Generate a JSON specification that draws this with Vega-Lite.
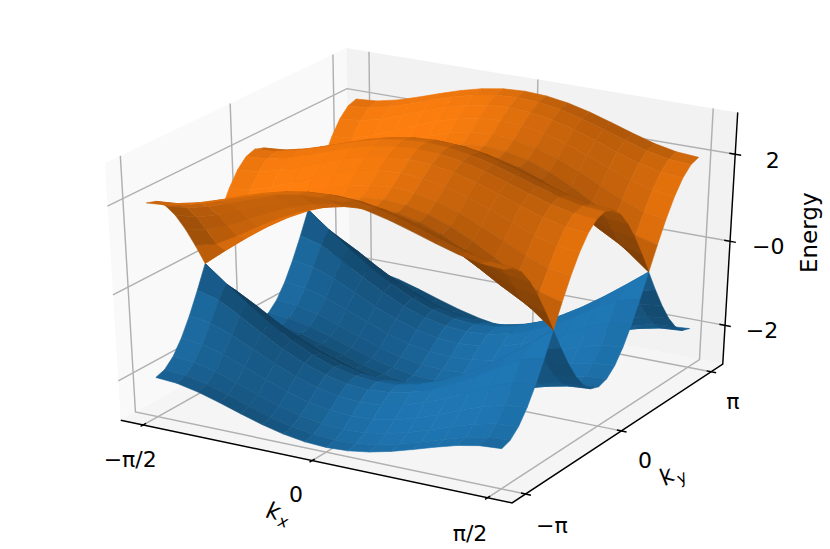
{"$schema":"https://vega.github.io/schema/vega-lite/v6.json","width":830,"height":549,"padding":0,"autosize":"none","background":"white","projection":{"type":"identity","reflectY":false,"scale":1,"translate":[0,0]},
"data":{"values":[
{"t":"pane","id":"a","kx":-102.3,"ky":-204.5,"e":-2.94},{"t":"pane","id":"a","kx":-102.3,"ky":204.5,"e":-2.94},{"t":"pane","id":"a","kx":-102.3,"ky":204.5,"e":2.94},{"t":"pane","id":"a","kx":-102.3,"ky":-204.5,"e":2.94},
{"t":"pane","id":"b","kx":-102.3,"ky":204.5,"e":-2.94},{"t":"pane","id":"b","kx":102.3,"ky":204.5,"e":-2.94},{"t":"pane","id":"b","kx":102.3,"ky":204.5,"e":2.94},{"t":"pane","id":"b","kx":-102.3,"ky":204.5,"e":2.94},
{"t":"pane","id":"c","kx":-102.3,"ky":-204.5,"e":-2.94},{"t":"pane","id":"c","kx":102.3,"ky":-204.5,"e":-2.94},{"t":"pane","id":"c","kx":102.3,"ky":204.5,"e":-2.94},{"t":"pane","id":"c","kx":-102.3,"ky":204.5,"e":-2.94},
{"t":"grid","id":"x1","s":0,"kx":-90,"ky":-204.5,"e":-2.94},{"t":"grid","id":"x1","s":1,"kx":-90,"ky":204.5,"e":-2.94},{"t":"grid","id":"x1","s":2,"kx":-90,"ky":204.5,"e":2.94},
{"t":"grid","id":"x2","s":0,"kx":0,"ky":-204.5,"e":-2.94},{"t":"grid","id":"x2","s":1,"kx":0,"ky":204.5,"e":-2.94},{"t":"grid","id":"x2","s":2,"kx":0,"ky":204.5,"e":2.94},
{"t":"grid","id":"x3","s":0,"kx":90,"ky":-204.5,"e":-2.94},{"t":"grid","id":"x3","s":1,"kx":90,"ky":204.5,"e":-2.94},{"t":"grid","id":"x3","s":2,"kx":90,"ky":204.5,"e":2.94},
{"t":"grid","id":"y1","s":0,"kx":102.3,"ky":-180,"e":-2.94},{"t":"grid","id":"y1","s":1,"kx":-102.3,"ky":-180,"e":-2.94},{"t":"grid","id":"y1","s":2,"kx":-102.3,"ky":-180,"e":2.94},
{"t":"grid","id":"y2","s":0,"kx":102.3,"ky":0,"e":-2.94},{"t":"grid","id":"y2","s":1,"kx":-102.3,"ky":0,"e":-2.94},{"t":"grid","id":"y2","s":2,"kx":-102.3,"ky":0,"e":2.94},
{"t":"grid","id":"y3","s":0,"kx":102.3,"ky":180,"e":-2.94},{"t":"grid","id":"y3","s":1,"kx":-102.3,"ky":180,"e":-2.94},{"t":"grid","id":"y3","s":2,"kx":-102.3,"ky":180,"e":2.94},
{"t":"grid","id":"z1","s":0,"kx":-102.3,"ky":-204.5,"e":-2},{"t":"grid","id":"z1","s":1,"kx":-102.3,"ky":204.5,"e":-2},{"t":"grid","id":"z1","s":2,"kx":102.3,"ky":204.5,"e":-2},
{"t":"grid","id":"z2","s":0,"kx":-102.3,"ky":-204.5,"e":0},{"t":"grid","id":"z2","s":1,"kx":-102.3,"ky":204.5,"e":0},{"t":"grid","id":"z2","s":2,"kx":102.3,"ky":204.5,"e":0},
{"t":"grid","id":"z3","s":0,"kx":-102.3,"ky":-204.5,"e":2},{"t":"grid","id":"z3","s":1,"kx":-102.3,"ky":204.5,"e":2},{"t":"grid","id":"z3","s":2,"kx":102.3,"ky":204.5,"e":2},
{"t":"axis","id":"ax","s":0,"kx":-102.3,"ky":-204.5,"e":-2.94},{"t":"axis","id":"ax","s":1,"kx":102.3,"ky":-204.5,"e":-2.94},{"t":"axis","id":"ax","s":2,"kx":102.3,"ky":204.5,"e":-2.94},{"t":"axis","id":"ax","s":3,"kx":102.3,"ky":204.5,"e":2.94},
{"t":"axis","id":"tx1","s":0,"kx":-90,"ky":-209,"e":-2.94},{"t":"axis","id":"tx1","s":1,"kx":-90,"ky":-200,"e":-2.94},
{"t":"axis","id":"tx2","s":0,"kx":0,"ky":-209,"e":-2.94},{"t":"axis","id":"tx2","s":1,"kx":0,"ky":-200,"e":-2.94},
{"t":"axis","id":"tx3","s":0,"kx":90,"ky":-209,"e":-2.94},{"t":"axis","id":"tx3","s":1,"kx":90,"ky":-200,"e":-2.94},
{"t":"axis","id":"ty1","s":0,"kx":100,"ky":-180,"e":-2.94},{"t":"axis","id":"ty1","s":1,"kx":105,"ky":-180,"e":-2.94},
{"t":"axis","id":"ty2","s":0,"kx":100,"ky":0,"e":-2.94},{"t":"axis","id":"ty2","s":1,"kx":105,"ky":0,"e":-2.94},
{"t":"axis","id":"ty3","s":0,"kx":100,"ky":180,"e":-2.94},{"t":"axis","id":"ty3","s":1,"kx":105,"ky":180,"e":-2.94},
{"t":"axis","id":"tz1","s":0,"kx":99.3,"ky":204.5,"e":-2},{"t":"axis","id":"tz1","s":1,"kx":105.3,"ky":204.5,"e":-2},
{"t":"axis","id":"tz2","s":0,"kx":99.3,"ky":204.5,"e":0},{"t":"axis","id":"tz2","s":1,"kx":105.3,"ky":204.5,"e":0},
{"t":"axis","id":"tz3","s":0,"kx":99.3,"ky":204.5,"e":2},{"t":"axis","id":"tz3","s":1,"kx":105.3,"ky":204.5,"e":2},
{"t":"tick","label":"−π/2","kx":-70.9,"ky":-284.5,"e":-2.94},{"t":"tick","label":"0","kx":15.5,"ky":-282.7,"e":-2.94},{"t":"tick","label":"π/2","kx":104.2,"ky":-285.8,"e":-2.94},
{"t":"tick","label":"−π","kx":130.3,"ky":-234.3,"e":-2.94},{"t":"tick","label":"0","kx":129.2,"ky":-56.4,"e":-2.94},{"t":"tick","label":"π","kx":129.4,"ky":117.9,"e":-2.94},
{"t":"tick","label":"2","kx":121.2,"ky":204.5,"e":1.99},{"t":"tick","label":"−0","kx":121.8,"ky":204.5,"e":0.025},{"t":"tick","label":"−2","kx":121.5,"ky":204.5,"e":-1.966},
{"t":"energy","label":"Energy","kx":142,"ky":204.5,"e":0.52},
{"t":"kxk","label":"k","kx":17.3,"ky":-327.2,"e":-2.94},{"t":"kxs","label":"x","kx":27.2,"ky":-342.6,"e":-2.94},
{"t":"kyk","label":"k","kx":146.6,"ky":-81,"e":-2.94},{"t":"kys","label":"y","kx":152.9,"ky":-76.5,"e":-2.94},
{"t":"s","kx":-90,"ky":180,"e":2},{"t":"s","kx":-78.75,"ky":180,"e":2.038},{"t":"s","kx":-67.5,"ky":180,"e":2.141},{"t":"s","kx":-56.25,"ky":180,"e":2.288},{"t":"s","kx":-45,"ky":180,"e":2.449},{"t":"s","kx":-33.75,"ky":180,"e":2.601},{"t":"s","kx":-22.5,"ky":180,"e":2.723},{"t":"s","kx":-11.25,"ky":180,"e":2.801},{"t":"s","kx":0,"ky":180,"e":2.828},{"t":"s","kx":11.25,"ky":180,"e":2.801},{"t":"s","kx":22.5,"ky":180,"e":2.723},{"t":"s","kx":33.75,"ky":180,"e":2.601},{"t":"s","kx":45,"ky":180,"e":2.449},{"t":"s","kx":56.25,"ky":180,"e":2.288},{"t":"s","kx":67.5,"ky":180,"e":2.141},{"t":"s","kx":78.75,"ky":180,"e":2.038},{"t":"s","kx":90,"ky":180,"e":2},
{"t":"s","kx":-90,"ky":165,"e":1.932},{"t":"s","kx":-78.75,"ky":165,"e":1.971},{"t":"s","kx":-67.5,"ky":165,"e":2.078},{"t":"s","kx":-56.25,"ky":165,"e":2.229},{"t":"s","kx":-45,"ky":165,"e":2.394},{"t":"s","kx":-33.75,"ky":165,"e":2.549},{"t":"s","kx":-22.5,"ky":165,"e":2.673},{"t":"s","kx":-11.25,"ky":165,"e":2.753},{"t":"s","kx":0,"ky":165,"e":2.781},{"t":"s","kx":11.25,"ky":165,"e":2.753},{"t":"s","kx":22.5,"ky":165,"e":2.673},{"t":"s","kx":33.75,"ky":165,"e":2.549},{"t":"s","kx":45,"ky":165,"e":2.394},{"t":"s","kx":56.25,"ky":165,"e":2.229},{"t":"s","kx":67.5,"ky":165,"e":2.078},{"t":"s","kx":78.75,"ky":165,"e":1.971},{"t":"s","kx":90,"ky":165,"e":1.932},
{"t":"s","kx":-90,"ky":150,"e":1.732},{"t":"s","kx":-78.75,"ky":150,"e":1.775},{"t":"s","kx":-67.5,"ky":150,"e":1.894},{"t":"s","kx":-56.25,"ky":150,"e":2.058},{"t":"s","kx":-45,"ky":150,"e":2.236},{"t":"s","kx":-33.75,"ky":150,"e":2.401},{"t":"s","kx":-22.5,"ky":150,"e":2.533},{"t":"s","kx":-11.25,"ky":150,"e":2.617},{"t":"s","kx":0,"ky":150,"e":2.646},{"t":"s","kx":11.25,"ky":150,"e":2.617},{"t":"s","kx":22.5,"ky":150,"e":2.533},{"t":"s","kx":33.75,"ky":150,"e":2.401},{"t":"s","kx":45,"ky":150,"e":2.236},{"t":"s","kx":56.25,"ky":150,"e":2.058},{"t":"s","kx":67.5,"ky":150,"e":1.894},{"t":"s","kx":78.75,"ky":150,"e":1.775},{"t":"s","kx":90,"ky":150,"e":1.732},
{"t":"s","kx":-90,"ky":135,"e":1.414},{"t":"s","kx":-78.75,"ky":135,"e":1.467},{"t":"s","kx":-67.5,"ky":135,"e":1.608},{"t":"s","kx":-56.25,"ky":135,"e":1.799},{"t":"s","kx":-45,"ky":135,"e":2},{"t":"s","kx":-33.75,"ky":135,"e":2.183},{"t":"s","kx":-22.5,"ky":135,"e":2.327},{"t":"s","kx":-11.25,"ky":135,"e":2.418},{"t":"s","kx":0,"ky":135,"e":2.449},{"t":"s","kx":11.25,"ky":135,"e":2.418},{"t":"s","kx":22.5,"ky":135,"e":2.327},{"t":"s","kx":33.75,"ky":135,"e":2.183},{"t":"s","kx":45,"ky":135,"e":2},{"t":"s","kx":56.25,"ky":135,"e":1.799},{"t":"s","kx":67.5,"ky":135,"e":1.608},{"t":"s","kx":78.75,"ky":135,"e":1.467},{"t":"s","kx":90,"ky":135,"e":1.414},
{"t":"s","kx":-90,"ky":120,"e":1},{"t":"s","kx":-78.75,"ky":120,"e":1.074},{"t":"s","kx":-67.5,"ky":120,"e":1.259},{"t":"s","kx":-56.25,"ky":120,"e":1.495},{"t":"s","kx":-45,"ky":120,"e":1.732},{"t":"s","kx":-33.75,"ky":120,"e":1.94},{"t":"s","kx":-22.5,"ky":120,"e":2.101},{"t":"s","kx":-11.25,"ky":120,"e":2.202},{"t":"s","kx":0,"ky":120,"e":2.236},{"t":"s","kx":11.25,"ky":120,"e":2.202},{"t":"s","kx":22.5,"ky":120,"e":2.101},{"t":"s","kx":33.75,"ky":120,"e":1.94},{"t":"s","kx":45,"ky":120,"e":1.732},{"t":"s","kx":56.25,"ky":120,"e":1.495},{"t":"s","kx":67.5,"ky":120,"e":1.259},{"t":"s","kx":78.75,"ky":120,"e":1.074},{"t":"s","kx":90,"ky":120,"e":1},
{"t":"s","kx":-90,"ky":105,"e":0.518},{"t":"s","kx":-78.75,"ky":105,"e":0.648},{"t":"s","kx":-67.5,"ky":105,"e":0.924},{"t":"s","kx":-56.25,"ky":105,"e":1.226},{"t":"s","kx":-45,"ky":105,"e":1.506},{"t":"s","kx":-33.75,"ky":105,"e":1.742},{"t":"s","kx":-22.5,"ky":105,"e":1.919},{"t":"s","kx":-11.25,"ky":105,"e":2.029},{"t":"s","kx":0,"ky":105,"e":2.066},{"t":"s","kx":11.25,"ky":105,"e":2.029},{"t":"s","kx":22.5,"ky":105,"e":1.919},{"t":"s","kx":33.75,"ky":105,"e":1.742},{"t":"s","kx":45,"ky":105,"e":1.506},{"t":"s","kx":56.25,"ky":105,"e":1.226},{"t":"s","kx":67.5,"ky":105,"e":0.924},{"t":"s","kx":78.75,"ky":105,"e":0.648},{"t":"s","kx":90,"ky":105,"e":0.518},
{"t":"s","kx":-90,"ky":90,"e":0},{"t":"s","kx":-78.75,"ky":90,"e":0.39},{"t":"s","kx":-67.5,"ky":90,"e":0.765},{"t":"s","kx":-56.25,"ky":90,"e":1.111},{"t":"s","kx":-45,"ky":90,"e":1.414},{"t":"s","kx":-33.75,"ky":90,"e":1.663},{"t":"s","kx":-22.5,"ky":90,"e":1.848},{"t":"s","kx":-11.25,"ky":90,"e":1.962},{"t":"s","kx":0,"ky":90,"e":2},{"t":"s","kx":11.25,"ky":90,"e":1.962},{"t":"s","kx":22.5,"ky":90,"e":1.848},{"t":"s","kx":33.75,"ky":90,"e":1.663},{"t":"s","kx":45,"ky":90,"e":1.414},{"t":"s","kx":56.25,"ky":90,"e":1.111},{"t":"s","kx":67.5,"ky":90,"e":0.765},{"t":"s","kx":78.75,"ky":90,"e":0.39},{"t":"s","kx":90,"ky":90,"e":0},
{"t":"s","kx":-90,"ky":75,"e":0.518},{"t":"s","kx":-78.75,"ky":75,"e":0.648},{"t":"s","kx":-67.5,"ky":75,"e":0.924},{"t":"s","kx":-56.25,"ky":75,"e":1.226},{"t":"s","kx":-45,"ky":75,"e":1.506},{"t":"s","kx":-33.75,"ky":75,"e":1.742},{"t":"s","kx":-22.5,"ky":75,"e":1.919},{"t":"s","kx":-11.25,"ky":75,"e":2.029},{"t":"s","kx":0,"ky":75,"e":2.066},{"t":"s","kx":11.25,"ky":75,"e":2.029},{"t":"s","kx":22.5,"ky":75,"e":1.919},{"t":"s","kx":33.75,"ky":75,"e":1.742},{"t":"s","kx":45,"ky":75,"e":1.506},{"t":"s","kx":56.25,"ky":75,"e":1.226},{"t":"s","kx":67.5,"ky":75,"e":0.924},{"t":"s","kx":78.75,"ky":75,"e":0.648},{"t":"s","kx":90,"ky":75,"e":0.518},
{"t":"s","kx":-90,"ky":60,"e":1},{"t":"s","kx":-78.75,"ky":60,"e":1.074},{"t":"s","kx":-67.5,"ky":60,"e":1.259},{"t":"s","kx":-56.25,"ky":60,"e":1.495},{"t":"s","kx":-45,"ky":60,"e":1.732},{"t":"s","kx":-33.75,"ky":60,"e":1.94},{"t":"s","kx":-22.5,"ky":60,"e":2.101},{"t":"s","kx":-11.25,"ky":60,"e":2.202},{"t":"s","kx":0,"ky":60,"e":2.236},{"t":"s","kx":11.25,"ky":60,"e":2.202},{"t":"s","kx":22.5,"ky":60,"e":2.101},{"t":"s","kx":33.75,"ky":60,"e":1.94},{"t":"s","kx":45,"ky":60,"e":1.732},{"t":"s","kx":56.25,"ky":60,"e":1.495},{"t":"s","kx":67.5,"ky":60,"e":1.259},{"t":"s","kx":78.75,"ky":60,"e":1.074},{"t":"s","kx":90,"ky":60,"e":1},
{"t":"s","kx":-90,"ky":45,"e":1.414},{"t":"s","kx":-78.75,"ky":45,"e":1.467},{"t":"s","kx":-67.5,"ky":45,"e":1.608},{"t":"s","kx":-56.25,"ky":45,"e":1.799},{"t":"s","kx":-45,"ky":45,"e":2},{"t":"s","kx":-33.75,"ky":45,"e":2.183},{"t":"s","kx":-22.5,"ky":45,"e":2.327},{"t":"s","kx":-11.25,"ky":45,"e":2.418},{"t":"s","kx":0,"ky":45,"e":2.449},{"t":"s","kx":11.25,"ky":45,"e":2.418},{"t":"s","kx":22.5,"ky":45,"e":2.327},{"t":"s","kx":33.75,"ky":45,"e":2.183},{"t":"s","kx":45,"ky":45,"e":2},{"t":"s","kx":56.25,"ky":45,"e":1.799},{"t":"s","kx":67.5,"ky":45,"e":1.608},{"t":"s","kx":78.75,"ky":45,"e":1.467},{"t":"s","kx":90,"ky":45,"e":1.414},
{"t":"s","kx":-90,"ky":30,"e":1.732},{"t":"s","kx":-78.75,"ky":30,"e":1.775},{"t":"s","kx":-67.5,"ky":30,"e":1.894},{"t":"s","kx":-56.25,"ky":30,"e":2.058},{"t":"s","kx":-45,"ky":30,"e":2.236},{"t":"s","kx":-33.75,"ky":30,"e":2.401},{"t":"s","kx":-22.5,"ky":30,"e":2.533},{"t":"s","kx":-11.25,"ky":30,"e":2.617},{"t":"s","kx":0,"ky":30,"e":2.646},{"t":"s","kx":11.25,"ky":30,"e":2.617},{"t":"s","kx":22.5,"ky":30,"e":2.533},{"t":"s","kx":33.75,"ky":30,"e":2.401},{"t":"s","kx":45,"ky":30,"e":2.236},{"t":"s","kx":56.25,"ky":30,"e":2.058},{"t":"s","kx":67.5,"ky":30,"e":1.894},{"t":"s","kx":78.75,"ky":30,"e":1.775},{"t":"s","kx":90,"ky":30,"e":1.732},
{"t":"s","kx":-90,"ky":15,"e":1.932},{"t":"s","kx":-78.75,"ky":15,"e":1.971},{"t":"s","kx":-67.5,"ky":15,"e":2.078},{"t":"s","kx":-56.25,"ky":15,"e":2.229},{"t":"s","kx":-45,"ky":15,"e":2.394},{"t":"s","kx":-33.75,"ky":15,"e":2.549},{"t":"s","kx":-22.5,"ky":15,"e":2.673},{"t":"s","kx":-11.25,"ky":15,"e":2.753},{"t":"s","kx":0,"ky":15,"e":2.781},{"t":"s","kx":11.25,"ky":15,"e":2.753},{"t":"s","kx":22.5,"ky":15,"e":2.673},{"t":"s","kx":33.75,"ky":15,"e":2.549},{"t":"s","kx":45,"ky":15,"e":2.394},{"t":"s","kx":56.25,"ky":15,"e":2.229},{"t":"s","kx":67.5,"ky":15,"e":2.078},{"t":"s","kx":78.75,"ky":15,"e":1.971},{"t":"s","kx":90,"ky":15,"e":1.932},
{"t":"s","kx":-90,"ky":0,"e":2},{"t":"s","kx":-78.75,"ky":0,"e":2.038},{"t":"s","kx":-67.5,"ky":0,"e":2.141},{"t":"s","kx":-56.25,"ky":0,"e":2.288},{"t":"s","kx":-45,"ky":0,"e":2.449},{"t":"s","kx":-33.75,"ky":0,"e":2.601},{"t":"s","kx":-22.5,"ky":0,"e":2.723},{"t":"s","kx":-11.25,"ky":0,"e":2.801},{"t":"s","kx":0,"ky":0,"e":2.828},{"t":"s","kx":11.25,"ky":0,"e":2.801},{"t":"s","kx":22.5,"ky":0,"e":2.723},{"t":"s","kx":33.75,"ky":0,"e":2.601},{"t":"s","kx":45,"ky":0,"e":2.449},{"t":"s","kx":56.25,"ky":0,"e":2.288},{"t":"s","kx":67.5,"ky":0,"e":2.141},{"t":"s","kx":78.75,"ky":0,"e":2.038},{"t":"s","kx":90,"ky":0,"e":2},
{"t":"s","kx":-90,"ky":-15,"e":1.932},{"t":"s","kx":-78.75,"ky":-15,"e":1.971},{"t":"s","kx":-67.5,"ky":-15,"e":2.078},{"t":"s","kx":-56.25,"ky":-15,"e":2.229},{"t":"s","kx":-45,"ky":-15,"e":2.394},{"t":"s","kx":-33.75,"ky":-15,"e":2.549},{"t":"s","kx":-22.5,"ky":-15,"e":2.673},{"t":"s","kx":-11.25,"ky":-15,"e":2.753},{"t":"s","kx":0,"ky":-15,"e":2.781},{"t":"s","kx":11.25,"ky":-15,"e":2.753},{"t":"s","kx":22.5,"ky":-15,"e":2.673},{"t":"s","kx":33.75,"ky":-15,"e":2.549},{"t":"s","kx":45,"ky":-15,"e":2.394},{"t":"s","kx":56.25,"ky":-15,"e":2.229},{"t":"s","kx":67.5,"ky":-15,"e":2.078},{"t":"s","kx":78.75,"ky":-15,"e":1.971},{"t":"s","kx":90,"ky":-15,"e":1.932},
{"t":"s","kx":-90,"ky":-30,"e":1.732},{"t":"s","kx":-78.75,"ky":-30,"e":1.775},{"t":"s","kx":-67.5,"ky":-30,"e":1.894},{"t":"s","kx":-56.25,"ky":-30,"e":2.058},{"t":"s","kx":-45,"ky":-30,"e":2.236},{"t":"s","kx":-33.75,"ky":-30,"e":2.401},{"t":"s","kx":-22.5,"ky":-30,"e":2.533},{"t":"s","kx":-11.25,"ky":-30,"e":2.617},{"t":"s","kx":0,"ky":-30,"e":2.646},{"t":"s","kx":11.25,"ky":-30,"e":2.617},{"t":"s","kx":22.5,"ky":-30,"e":2.533},{"t":"s","kx":33.75,"ky":-30,"e":2.401},{"t":"s","kx":45,"ky":-30,"e":2.236},{"t":"s","kx":56.25,"ky":-30,"e":2.058},{"t":"s","kx":67.5,"ky":-30,"e":1.894},{"t":"s","kx":78.75,"ky":-30,"e":1.775},{"t":"s","kx":90,"ky":-30,"e":1.732},
{"t":"s","kx":-90,"ky":-45,"e":1.414},{"t":"s","kx":-78.75,"ky":-45,"e":1.467},{"t":"s","kx":-67.5,"ky":-45,"e":1.608},{"t":"s","kx":-56.25,"ky":-45,"e":1.799},{"t":"s","kx":-45,"ky":-45,"e":2},{"t":"s","kx":-33.75,"ky":-45,"e":2.183},{"t":"s","kx":-22.5,"ky":-45,"e":2.327},{"t":"s","kx":-11.25,"ky":-45,"e":2.418},{"t":"s","kx":0,"ky":-45,"e":2.449},{"t":"s","kx":11.25,"ky":-45,"e":2.418},{"t":"s","kx":22.5,"ky":-45,"e":2.327},{"t":"s","kx":33.75,"ky":-45,"e":2.183},{"t":"s","kx":45,"ky":-45,"e":2},{"t":"s","kx":56.25,"ky":-45,"e":1.799},{"t":"s","kx":67.5,"ky":-45,"e":1.608},{"t":"s","kx":78.75,"ky":-45,"e":1.467},{"t":"s","kx":90,"ky":-45,"e":1.414},
{"t":"s","kx":-90,"ky":-60,"e":1},{"t":"s","kx":-78.75,"ky":-60,"e":1.074},{"t":"s","kx":-67.5,"ky":-60,"e":1.259},{"t":"s","kx":-56.25,"ky":-60,"e":1.495},{"t":"s","kx":-45,"ky":-60,"e":1.732},{"t":"s","kx":-33.75,"ky":-60,"e":1.94},{"t":"s","kx":-22.5,"ky":-60,"e":2.101},{"t":"s","kx":-11.25,"ky":-60,"e":2.202},{"t":"s","kx":0,"ky":-60,"e":2.236},{"t":"s","kx":11.25,"ky":-60,"e":2.202},{"t":"s","kx":22.5,"ky":-60,"e":2.101},{"t":"s","kx":33.75,"ky":-60,"e":1.94},{"t":"s","kx":45,"ky":-60,"e":1.732},{"t":"s","kx":56.25,"ky":-60,"e":1.495},{"t":"s","kx":67.5,"ky":-60,"e":1.259},{"t":"s","kx":78.75,"ky":-60,"e":1.074},{"t":"s","kx":90,"ky":-60,"e":1},
{"t":"s","kx":-90,"ky":-75,"e":0.518},{"t":"s","kx":-78.75,"ky":-75,"e":0.648},{"t":"s","kx":-67.5,"ky":-75,"e":0.924},{"t":"s","kx":-56.25,"ky":-75,"e":1.226},{"t":"s","kx":-45,"ky":-75,"e":1.506},{"t":"s","kx":-33.75,"ky":-75,"e":1.742},{"t":"s","kx":-22.5,"ky":-75,"e":1.919},{"t":"s","kx":-11.25,"ky":-75,"e":2.029},{"t":"s","kx":0,"ky":-75,"e":2.066},{"t":"s","kx":11.25,"ky":-75,"e":2.029},{"t":"s","kx":22.5,"ky":-75,"e":1.919},{"t":"s","kx":33.75,"ky":-75,"e":1.742},{"t":"s","kx":45,"ky":-75,"e":1.506},{"t":"s","kx":56.25,"ky":-75,"e":1.226},{"t":"s","kx":67.5,"ky":-75,"e":0.924},{"t":"s","kx":78.75,"ky":-75,"e":0.648},{"t":"s","kx":90,"ky":-75,"e":0.518},
{"t":"s","kx":-90,"ky":-90,"e":0},{"t":"s","kx":-78.75,"ky":-90,"e":0.39},{"t":"s","kx":-67.5,"ky":-90,"e":0.765},{"t":"s","kx":-56.25,"ky":-90,"e":1.111},{"t":"s","kx":-45,"ky":-90,"e":1.414},{"t":"s","kx":-33.75,"ky":-90,"e":1.663},{"t":"s","kx":-22.5,"ky":-90,"e":1.848},{"t":"s","kx":-11.25,"ky":-90,"e":1.962},{"t":"s","kx":0,"ky":-90,"e":2},{"t":"s","kx":11.25,"ky":-90,"e":1.962},{"t":"s","kx":22.5,"ky":-90,"e":1.848},{"t":"s","kx":33.75,"ky":-90,"e":1.663},{"t":"s","kx":45,"ky":-90,"e":1.414},{"t":"s","kx":56.25,"ky":-90,"e":1.111},{"t":"s","kx":67.5,"ky":-90,"e":0.765},{"t":"s","kx":78.75,"ky":-90,"e":0.39},{"t":"s","kx":90,"ky":-90,"e":0},
{"t":"s","kx":-90,"ky":-105,"e":0.518},{"t":"s","kx":-78.75,"ky":-105,"e":0.648},{"t":"s","kx":-67.5,"ky":-105,"e":0.924},{"t":"s","kx":-56.25,"ky":-105,"e":1.226},{"t":"s","kx":-45,"ky":-105,"e":1.506},{"t":"s","kx":-33.75,"ky":-105,"e":1.742},{"t":"s","kx":-22.5,"ky":-105,"e":1.919},{"t":"s","kx":-11.25,"ky":-105,"e":2.029},{"t":"s","kx":0,"ky":-105,"e":2.066},{"t":"s","kx":11.25,"ky":-105,"e":2.029},{"t":"s","kx":22.5,"ky":-105,"e":1.919},{"t":"s","kx":33.75,"ky":-105,"e":1.742},{"t":"s","kx":45,"ky":-105,"e":1.506},{"t":"s","kx":56.25,"ky":-105,"e":1.226},{"t":"s","kx":67.5,"ky":-105,"e":0.924},{"t":"s","kx":78.75,"ky":-105,"e":0.648},{"t":"s","kx":90,"ky":-105,"e":0.518},
{"t":"s","kx":-90,"ky":-120,"e":1},{"t":"s","kx":-78.75,"ky":-120,"e":1.074},{"t":"s","kx":-67.5,"ky":-120,"e":1.259},{"t":"s","kx":-56.25,"ky":-120,"e":1.495},{"t":"s","kx":-45,"ky":-120,"e":1.732},{"t":"s","kx":-33.75,"ky":-120,"e":1.94},{"t":"s","kx":-22.5,"ky":-120,"e":2.101},{"t":"s","kx":-11.25,"ky":-120,"e":2.202},{"t":"s","kx":0,"ky":-120,"e":2.236},{"t":"s","kx":11.25,"ky":-120,"e":2.202},{"t":"s","kx":22.5,"ky":-120,"e":2.101},{"t":"s","kx":33.75,"ky":-120,"e":1.94},{"t":"s","kx":45,"ky":-120,"e":1.732},{"t":"s","kx":56.25,"ky":-120,"e":1.495},{"t":"s","kx":67.5,"ky":-120,"e":1.259},{"t":"s","kx":78.75,"ky":-120,"e":1.074},{"t":"s","kx":90,"ky":-120,"e":1},
{"t":"s","kx":-90,"ky":-135,"e":1.414},{"t":"s","kx":-78.75,"ky":-135,"e":1.467},{"t":"s","kx":-67.5,"ky":-135,"e":1.608},{"t":"s","kx":-56.25,"ky":-135,"e":1.799},{"t":"s","kx":-45,"ky":-135,"e":2},{"t":"s","kx":-33.75,"ky":-135,"e":2.183},{"t":"s","kx":-22.5,"ky":-135,"e":2.327},{"t":"s","kx":-11.25,"ky":-135,"e":2.418},{"t":"s","kx":0,"ky":-135,"e":2.449},{"t":"s","kx":11.25,"ky":-135,"e":2.418},{"t":"s","kx":22.5,"ky":-135,"e":2.327},{"t":"s","kx":33.75,"ky":-135,"e":2.183},{"t":"s","kx":45,"ky":-135,"e":2},{"t":"s","kx":56.25,"ky":-135,"e":1.799},{"t":"s","kx":67.5,"ky":-135,"e":1.608},{"t":"s","kx":78.75,"ky":-135,"e":1.467},{"t":"s","kx":90,"ky":-135,"e":1.414},
{"t":"s","kx":-90,"ky":-150,"e":1.732},{"t":"s","kx":-78.75,"ky":-150,"e":1.775},{"t":"s","kx":-67.5,"ky":-150,"e":1.894},{"t":"s","kx":-56.25,"ky":-150,"e":2.058},{"t":"s","kx":-45,"ky":-150,"e":2.236},{"t":"s","kx":-33.75,"ky":-150,"e":2.401},{"t":"s","kx":-22.5,"ky":-150,"e":2.533},{"t":"s","kx":-11.25,"ky":-150,"e":2.617},{"t":"s","kx":0,"ky":-150,"e":2.646},{"t":"s","kx":11.25,"ky":-150,"e":2.617},{"t":"s","kx":22.5,"ky":-150,"e":2.533},{"t":"s","kx":33.75,"ky":-150,"e":2.401},{"t":"s","kx":45,"ky":-150,"e":2.236},{"t":"s","kx":56.25,"ky":-150,"e":2.058},{"t":"s","kx":67.5,"ky":-150,"e":1.894},{"t":"s","kx":78.75,"ky":-150,"e":1.775},{"t":"s","kx":90,"ky":-150,"e":1.732},
{"t":"s","kx":-90,"ky":-165,"e":1.932},{"t":"s","kx":-78.75,"ky":-165,"e":1.971},{"t":"s","kx":-67.5,"ky":-165,"e":2.078},{"t":"s","kx":-56.25,"ky":-165,"e":2.229},{"t":"s","kx":-45,"ky":-165,"e":2.394},{"t":"s","kx":-33.75,"ky":-165,"e":2.549},{"t":"s","kx":-22.5,"ky":-165,"e":2.673},{"t":"s","kx":-11.25,"ky":-165,"e":2.753},{"t":"s","kx":0,"ky":-165,"e":2.781},{"t":"s","kx":11.25,"ky":-165,"e":2.753},{"t":"s","kx":22.5,"ky":-165,"e":2.673},{"t":"s","kx":33.75,"ky":-165,"e":2.549},{"t":"s","kx":45,"ky":-165,"e":2.394},{"t":"s","kx":56.25,"ky":-165,"e":2.229},{"t":"s","kx":67.5,"ky":-165,"e":2.078},{"t":"s","kx":78.75,"ky":-165,"e":1.971},{"t":"s","kx":90,"ky":-165,"e":1.932},
{"t":"s","kx":-90,"ky":-180,"e":2},{"t":"s","kx":-78.75,"ky":-180,"e":2.038},{"t":"s","kx":-67.5,"ky":-180,"e":2.141},{"t":"s","kx":-56.25,"ky":-180,"e":2.288},{"t":"s","kx":-45,"ky":-180,"e":2.449},{"t":"s","kx":-33.75,"ky":-180,"e":2.601},{"t":"s","kx":-22.5,"ky":-180,"e":2.723},{"t":"s","kx":-11.25,"ky":-180,"e":2.801},{"t":"s","kx":0,"ky":-180,"e":2.828},{"t":"s","kx":11.25,"ky":-180,"e":2.801},{"t":"s","kx":22.5,"ky":-180,"e":2.723},{"t":"s","kx":33.75,"ky":-180,"e":2.601},{"t":"s","kx":45,"ky":-180,"e":2.449},{"t":"s","kx":56.25,"ky":-180,"e":2.288},{"t":"s","kx":67.5,"ky":-180,"e":2.141},{"t":"s","kx":78.75,"ky":-180,"e":2.038},{"t":"s","kx":90,"ky":-180,"e":2}
]},
"transform":[
{"calculate":"datum.kx/204.55","as":"qx"},{"calculate":"datum.ky/409.1","as":"qy"},{"calculate":"datum.e/5.88","as":"qz"},
{"calculate":"426.4+4516*(0.866*datum.qx+0.5*datum.qy)/(10-0.433*datum.qx+0.75*datum.qy-0.5*datum.qz)","as":"px"},
{"calculate":"267.7-2934*(-0.25*datum.qx+0.433*datum.qy+0.866*datum.qz)/(10-0.433*datum.qx+0.75*datum.qy-0.5*datum.qz)","as":"py"},
{"calculate":"426.4+4516*(0.866*datum.qx+0.5*datum.qy)/(10-0.433*datum.qx+0.75*datum.qy+0.5*datum.qz)","as":"pxb"},
{"calculate":"267.7-2934*(-0.25*datum.qx+0.433*datum.qy-0.866*datum.qz)/(10-0.433*datum.qx+0.75*datum.qy+0.5*datum.qz)","as":"pyb"}
],
"layer":[
{"transform":[{"filter":"datum.t==='pane'"},{"aggregate":[{"op":"values","as":"p"}],"groupby":["id"]},
{"calculate":"{type:'Feature',properties:{},geometry:{type:'Polygon',coordinates:[[[datum.p[0].px,datum.p[0].py],[datum.p[1].px,datum.p[1].py],[datum.p[2].px,datum.p[2].py],[datum.p[3].px,datum.p[3].py],[datum.p[0].px,datum.p[0].py]]]}}","as":"geo"}],
"mark":{"type":"geoshape","strokeWidth":0},"encoding":{"shape":{"field":"geo","type":"geojson"},"fill":{"field":"id","type":"nominal","legend":null,"scale":{"domain":["a","b","c"],"range":["#f9f9f9","#f2f2f2","#f5f5f5"]}}}},
{"transform":[{"filter":"datum.t==='grid'"}],"mark":{"type":"line","color":"#b0b0b0","strokeWidth":1.45},"encoding":{"longitude":{"field":"px","type":"quantitative"},"latitude":{"field":"py","type":"quantitative"},"detail":{"field":"id"},"order":{"field":"s"}}},
{"transform":[{"filter":"datum.t==='axis'"}],"mark":{"type":"line","color":"#000000","strokeWidth":1.45},"encoding":{"longitude":{"field":"px","type":"quantitative"},"latitude":{"field":"py","type":"quantitative"},"detail":{"field":"id"},"order":{"field":"s"}}},
{"transform":[{"filter":"datum.t==='s'"},{"calculate":"datum.pxb","as":"x0"},{"calculate":"datum.pyb","as":"y0"},{"calculate":"-datum.e","as":"h"},
{"window":[{"op":"lead","field":"x0","as":"xa"},{"op":"lead","field":"y0","as":"ya"},{"op":"lead","field":"h","as":"ha"},{"op":"lead","field":"kx","as":"kx2"}],"groupby":["ky"],"sort":[{"field":"kx","order":"ascending"}]},
{"window":[{"op":"lead","field":"x0","as":"xb"},{"op":"lead","field":"y0","as":"yb"},{"op":"lead","field":"h","as":"hb"},{"op":"lead","field":"ky","as":"ky2"},{"op":"lead","field":"xa","as":"xc"},{"op":"lead","field":"ya","as":"yc"},{"op":"lead","field":"ha","as":"hc"}],"groupby":["kx"],"sort":[{"field":"ky","order":"ascending"}]},
{"filter":"isValid(datum.kx2)&&isValid(datum.ky2)"},
{"calculate":"((datum.ha-datum.h)+(datum.hc-datum.hb))/2/((datum.kx2-datum.kx)*PI/180)","as":"gx"},
{"calculate":"((datum.hb-datum.h)+(datum.hc-datum.ha))/2/((datum.ky2-datum.ky)*PI/180)","as":"gy"},
{"calculate":"(datum.gx+datum.gy+0.5)/sqrt(datum.gx*datum.gx+datum.gy*datum.gy+1)","as":"sh"},
{"joinaggregate":[{"op":"min","field":"sh","as":"smin"},{"op":"max","field":"sh","as":"smax"}]},
{"calculate":"0.5+0.5*(datum.sh-datum.smin)/(datum.smax-datum.smin)","as":"f"},
{"calculate":"'rgb('+round(31*datum.f)+','+round(119*datum.f)+','+round(180*datum.f)+')'","as":"col"},
{"calculate":"{type:'Feature',properties:{},geometry:{type:'Polygon',coordinates:[[[datum.x0,datum.y0],[datum.xa,datum.ya],[datum.xc,datum.yc],[datum.xb,datum.yb],[datum.x0,datum.y0]]]}}","as":"geo"}],
"mark":{"type":"geoshape","strokeWidth":0.6},"encoding":{"shape":{"field":"geo","type":"geojson"},"fill":{"field":"col","type":"nominal","scale":null},"stroke":{"field":"col","type":"nominal","scale":null}}},
{"transform":[{"filter":"datum.t==='s'"},{"calculate":"datum.px","as":"x0"},{"calculate":"datum.py","as":"y0"},{"calculate":"datum.e","as":"h"},
{"window":[{"op":"lead","field":"x0","as":"xa"},{"op":"lead","field":"y0","as":"ya"},{"op":"lead","field":"h","as":"ha"},{"op":"lead","field":"kx","as":"kx2"}],"groupby":["ky"],"sort":[{"field":"kx","order":"ascending"}]},
{"window":[{"op":"lead","field":"x0","as":"xb"},{"op":"lead","field":"y0","as":"yb"},{"op":"lead","field":"h","as":"hb"},{"op":"lead","field":"ky","as":"ky2"},{"op":"lead","field":"xa","as":"xc"},{"op":"lead","field":"ya","as":"yc"},{"op":"lead","field":"ha","as":"hc"}],"groupby":["kx"],"sort":[{"field":"ky","order":"ascending"}]},
{"filter":"isValid(datum.kx2)&&isValid(datum.ky2)"},
{"calculate":"((datum.ha-datum.h)+(datum.hc-datum.hb))/2/((datum.kx2-datum.kx)*PI/180)","as":"gx"},
{"calculate":"((datum.hb-datum.h)+(datum.hc-datum.ha))/2/((datum.ky2-datum.ky)*PI/180)","as":"gy"},
{"calculate":"(datum.gx+datum.gy+0.5)/sqrt(datum.gx*datum.gx+datum.gy*datum.gy+1)","as":"sh"},
{"joinaggregate":[{"op":"min","field":"sh","as":"smin"},{"op":"max","field":"sh","as":"smax"}]},
{"calculate":"0.5+0.5*(datum.sh-datum.smin)/(datum.smax-datum.smin)","as":"f"},
{"calculate":"'rgb('+round(255*datum.f)+','+round(127*datum.f)+','+round(14*datum.f)+')'","as":"col"},
{"calculate":"{type:'Feature',properties:{},geometry:{type:'Polygon',coordinates:[[[datum.x0,datum.y0],[datum.xa,datum.ya],[datum.xc,datum.yc],[datum.xb,datum.yb],[datum.x0,datum.y0]]]}}","as":"geo"}],
"mark":{"type":"geoshape","strokeWidth":0.6},"encoding":{"shape":{"field":"geo","type":"geojson"},"fill":{"field":"col","type":"nominal","scale":null},"stroke":{"field":"col","type":"nominal","scale":null}}},
{"transform":[{"filter":"datum.t==='tick'"}],"mark":{"type":"text","font":"DejaVu Sans","fontSize":22,"align":"center","baseline":"middle","color":"#000"},"encoding":{"longitude":{"field":"px","type":"quantitative"},"latitude":{"field":"py","type":"quantitative"},"text":{"field":"label"}}},
{"transform":[{"filter":"datum.t==='energy'"}],"mark":{"type":"text","font":"DejaVu Sans","fontSize":23,"angle":270,"align":"center","baseline":"middle","color":"#000"},"encoding":{"longitude":{"field":"px","type":"quantitative"},"latitude":{"field":"py","type":"quantitative"},"text":{"field":"label"}}},
{"transform":[{"filter":"datum.t==='kxk'"}],"mark":{"type":"text","font":"DejaVu Sans","fontStyle":"italic","fontSize":23,"angle":13,"align":"center","baseline":"middle","color":"#000"},"encoding":{"longitude":{"field":"px","type":"quantitative"},"latitude":{"field":"py","type":"quantitative"},"text":{"field":"label"}}},
{"transform":[{"filter":"datum.t==='kxs'"}],"mark":{"type":"text","font":"DejaVu Sans","fontStyle":"italic","fontSize":16,"angle":13,"align":"center","baseline":"middle","color":"#000"},"encoding":{"longitude":{"field":"px","type":"quantitative"},"latitude":{"field":"py","type":"quantitative"},"text":{"field":"label"}}},
{"transform":[{"filter":"datum.t==='kyk'"}],"mark":{"type":"text","font":"DejaVu Sans","fontStyle":"italic","fontSize":23,"angle":327,"align":"center","baseline":"middle","color":"#000"},"encoding":{"longitude":{"field":"px","type":"quantitative"},"latitude":{"field":"py","type":"quantitative"},"text":{"field":"label"}}},
{"transform":[{"filter":"datum.t==='kys'"}],"mark":{"type":"text","font":"DejaVu Sans","fontStyle":"italic","fontSize":16,"angle":327,"align":"center","baseline":"middle","color":"#000"},"encoding":{"longitude":{"field":"px","type":"quantitative"},"latitude":{"field":"py","type":"quantitative"},"text":{"field":"label"}}}
]}
